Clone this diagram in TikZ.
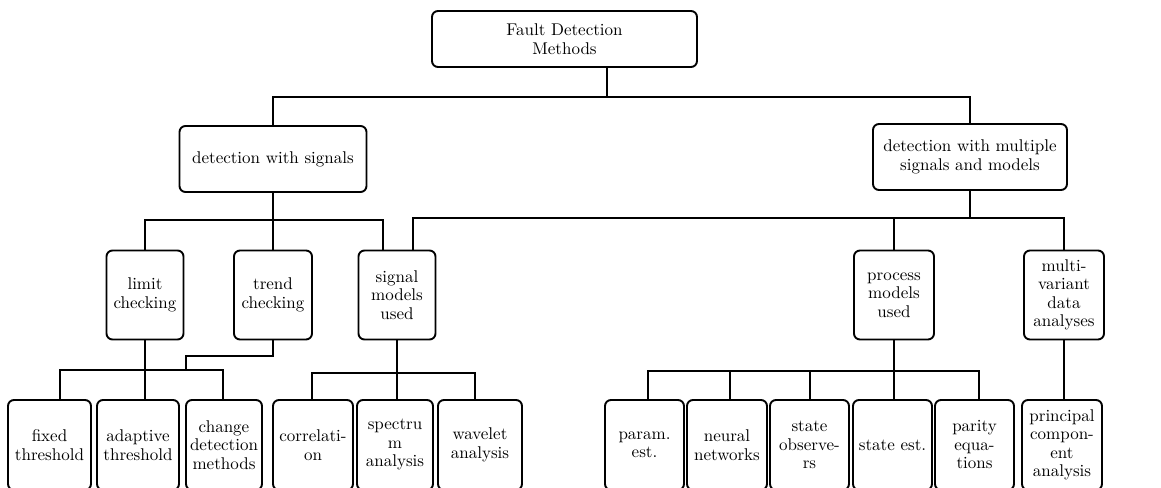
\documentclass[tikz,border=0pt]{standalone}
\usepackage{fontspec}
\setmainfont{lmroman10-regular}[Extension=.otf]
\begin{document}
\begin{tikzpicture}[x=1pt,y=-1pt,
  box/.style={draw, line width=1.9pt, rounded corners=6pt, inner sep=0pt,
    align=center, font=\fontsize{17}{18.5}\selectfont},
  wire/.style={line width=1.9pt}]
\useasboundingbox (0,0) rectangle (1161,487);

% root
\node[box, minimum width=265, minimum height=56] (root) at (564.5,39) {Fault Detection\\Methods};

% second level
\node[box, minimum width=187, minimum height=66] (sig)  at (273,159) {detection with signals};
\node[box, minimum width=194, minimum height=66] (mult) at (970,157) {detection with multiple\\signals and models};

% third level
\node[box, minimum width=77, minimum height=89] (lim)   at (145,295) {limit\\checking};
\node[box, minimum width=78, minimum height=89] (trend) at (273,295) {trend\\checking};
\node[box, minimum width=77, minimum height=89] (sigm)  at (397,295) {signal\\models\\used};
\node[box, minimum width=80, minimum height=89] (proc)  at (894,295) {process\\models\\used};
\node[box, minimum width=80, minimum height=89] (mva)   at (1064,295) {multi-\\variant\\data\\analyses};

% leaves
\node[box, minimum width=83, minimum height=90] (fix)   at (49.5,445) {fixed\\threshold};
\node[box, minimum width=82, minimum height=90] (adap)  at (138,445)  {adaptive\\threshold};
\node[box, minimum width=76, minimum height=90] (chg)   at (224,445)  {change\\detection\\methods};
\node[box, minimum width=80, minimum height=90] (corr)  at (313,445)  {correlati-\\on};
\node[box, minimum width=76, minimum height=90] (spec)  at (395,445)  {spectru\\m\\analysis};
\node[box, minimum width=84, minimum height=90] (wav)   at (480,445)  {wavelet\\analysis};
\node[box, minimum width=79, minimum height=90] (par)   at (644.5,445) {param.\\est.};
\node[box, minimum width=80, minimum height=90] (neur)  at (727,445)  {neural\\networks};
\node[box, minimum width=79, minimum height=90] (sobs)  at (809.5,445) {state\\observe-\\rs};
\node[box, minimum width=79, minimum height=90] (sest)  at (892.5,445) {state est.};
\node[box, minimum width=79, minimum height=90] (pareq) at (974.5,445) {parity\\equa-\\tions};
\node[box, minimum width=80, minimum height=90] (pca)   at (1062,445) {principal\\compon-\\ent\\analysis};

% junction points of the tree
\coordinate (j0) at (607,97);
\coordinate (a1) at (383,220);
\coordinate (a2) at (413,218);
\coordinate (b1) at (60,370);
\coordinate (b2) at (223,370);
\coordinate (b3) at (186,356);
\coordinate (c1) at (312,373);
\coordinate (c2) at (475,373);
\coordinate (d1) at (648,371);
\coordinate (d2) at (730,371);
\coordinate (d3) at (810,371);
\coordinate (d4) at (979,371);

% root to second level
\draw[wire] (root.south -| j0) -- (j0);
\draw[wire] (sig.north) |- (j0) -| (mult.north);

% detection with signals
\draw[wire] (sig.south) -- (trend.north);
\draw[wire] (lim.north) |- (a1) -- (a1 |- sigm.north);

% detection with multiple signals and models
\draw[wire] (mult.south) -- (mult.south |- a2);
\draw[wire] (a2 |- sigm.north) -- (a2) -| (mva.north);
\draw[wire] (proc.north) -- (proc.north |- a2);

% limit and trend checking
\draw[wire] (lim.south) -- (lim.south |- adap.north);
\draw[wire] (b1 |- fix.north) -- (b1) -- (b2) -- (b2 |- chg.north);
\draw[wire] (trend.south) |- (b3) -- (b3 |- b1);

% signal models
\draw[wire] (sigm.south) -- (sigm.south |- spec.north);
\draw[wire] (c1 |- corr.north) -- (c1) -- (c2) -- (c2 |- wav.north);

% process models
\draw[wire] (proc.south) -- (proc.south |- sest.north);
\draw[wire] (d1 |- par.north) -- (d1) -- (d4) -- (d4 |- pareq.north);
\draw[wire] (d2) -- (d2 |- neur.north);
\draw[wire] (d3) -- (d3 |- sobs.north);

% multi-variant data analyses
\draw[wire] (mva.south) -- (pca.north -| mva.south);
\end{tikzpicture}
\end{document}
